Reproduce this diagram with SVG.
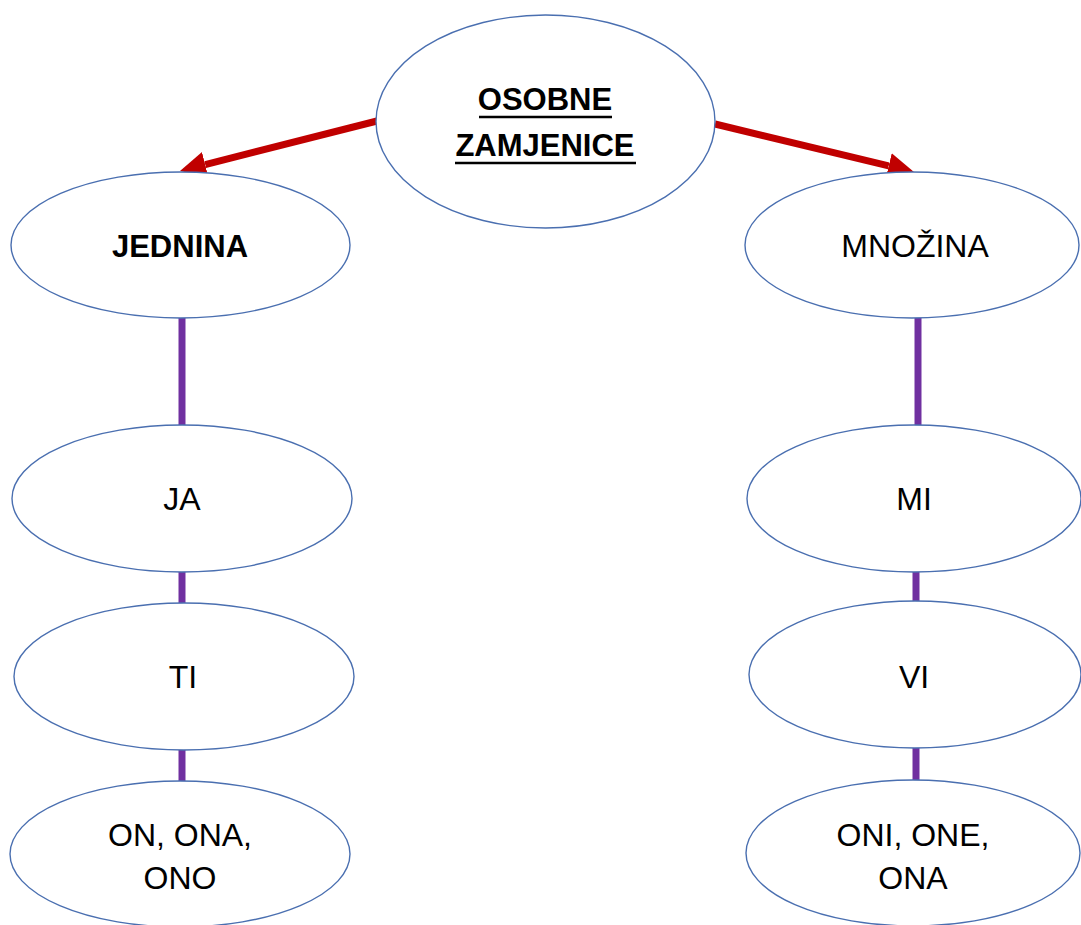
<svg xmlns="http://www.w3.org/2000/svg" width="1081" height="925" viewBox="0 0 1081 925">
<style>
.node ellipse{fill:#fff;stroke:#4A6FB0;stroke-width:1.4}
text{font-family:"Liberation Sans",Arial,sans-serif;font-size:32px;fill:#000;text-anchor:middle}
.b{font-weight:bold;font-size:31px}
.red{stroke:#C00000;stroke-width:7;fill:none}
.pur{stroke:#7030A0;stroke-width:7;fill:none}
</style>
<defs>
<marker id="ah" viewBox="0 0 26 26" refX="0" refY="13" markerWidth="26" markerHeight="26" orient="auto" markerUnits="userSpaceOnUse">
<path d="M0,0 L26,13 L0,26 z" fill="#C00000"/>
</marker>
</defs>
<rect width="1081" height="925" fill="#fff"/>
<g id="connectors">
<line class="red" x1="377" y1="121" x2="205.2" y2="164.6" marker-end="url(#ah)"/>
<line class="red" x1="715" y1="124" x2="888.7" y2="165.9" marker-end="url(#ah)"/>
<line class="pur" x1="182" y1="318" x2="182" y2="425"/>
<line class="pur" x1="182" y1="572" x2="182" y2="603"/>
<line class="pur" x1="182" y1="750" x2="182" y2="781"/>
<line class="pur" x1="918" y1="318" x2="918" y2="425"/>
<line class="pur" x1="916" y1="572" x2="916" y2="601"/>
<line class="pur" x1="916" y1="748" x2="916" y2="780"/>
</g>
<g id="osobne" class="node">
<ellipse cx="545.5" cy="121.5" rx="169.5" ry="106.5"/>
<text class="b" x="545" y="110">OSOBNE</text>
<text class="b" x="545" y="156">ZAMJENICE</text>
<line x1="479" y1="117" x2="612" y2="117" stroke="#000" stroke-width="2.5"/>
<line x1="455" y1="163" x2="636" y2="163" stroke="#000" stroke-width="2.5"/>
</g>
<g id="jednina" class="node">
<ellipse cx="180.5" cy="245" rx="169.5" ry="73"/>
<text class="b" x="180" y="257">JEDNINA</text>
</g>
<g id="mnozina" class="node">
<ellipse cx="912" cy="245" rx="167" ry="73"/>
<text x="915" y="257">MNOŽINA</text>
</g>
<g id="ja" class="node">
<ellipse cx="182" cy="498.5" rx="170" ry="73.5"/>
<text x="182" y="510">JA</text>
</g>
<g id="ti" class="node">
<ellipse cx="184" cy="676.5" rx="170" ry="73.5"/>
<text x="183" y="688">TI</text>
</g>
<g id="ononaono" class="node">
<ellipse cx="180" cy="854" rx="170" ry="73"/>
<text x="180" y="846">ON, ONA,</text>
<text x="180" y="889">ONO</text>
</g>
<g id="mi" class="node">
<ellipse cx="914" cy="498.5" rx="167" ry="73.5"/>
<text x="914" y="510">MI</text>
</g>
<g id="vi" class="node">
<ellipse cx="915" cy="674.5" rx="166" ry="73.5"/>
<text x="914" y="688">VI</text>
</g>
<g id="onionena" class="node">
<ellipse cx="913" cy="853" rx="167" ry="73"/>
<text x="913" y="846">ONI, ONE,</text>
<text x="913" y="889">ONA</text>
</g>
</svg>
